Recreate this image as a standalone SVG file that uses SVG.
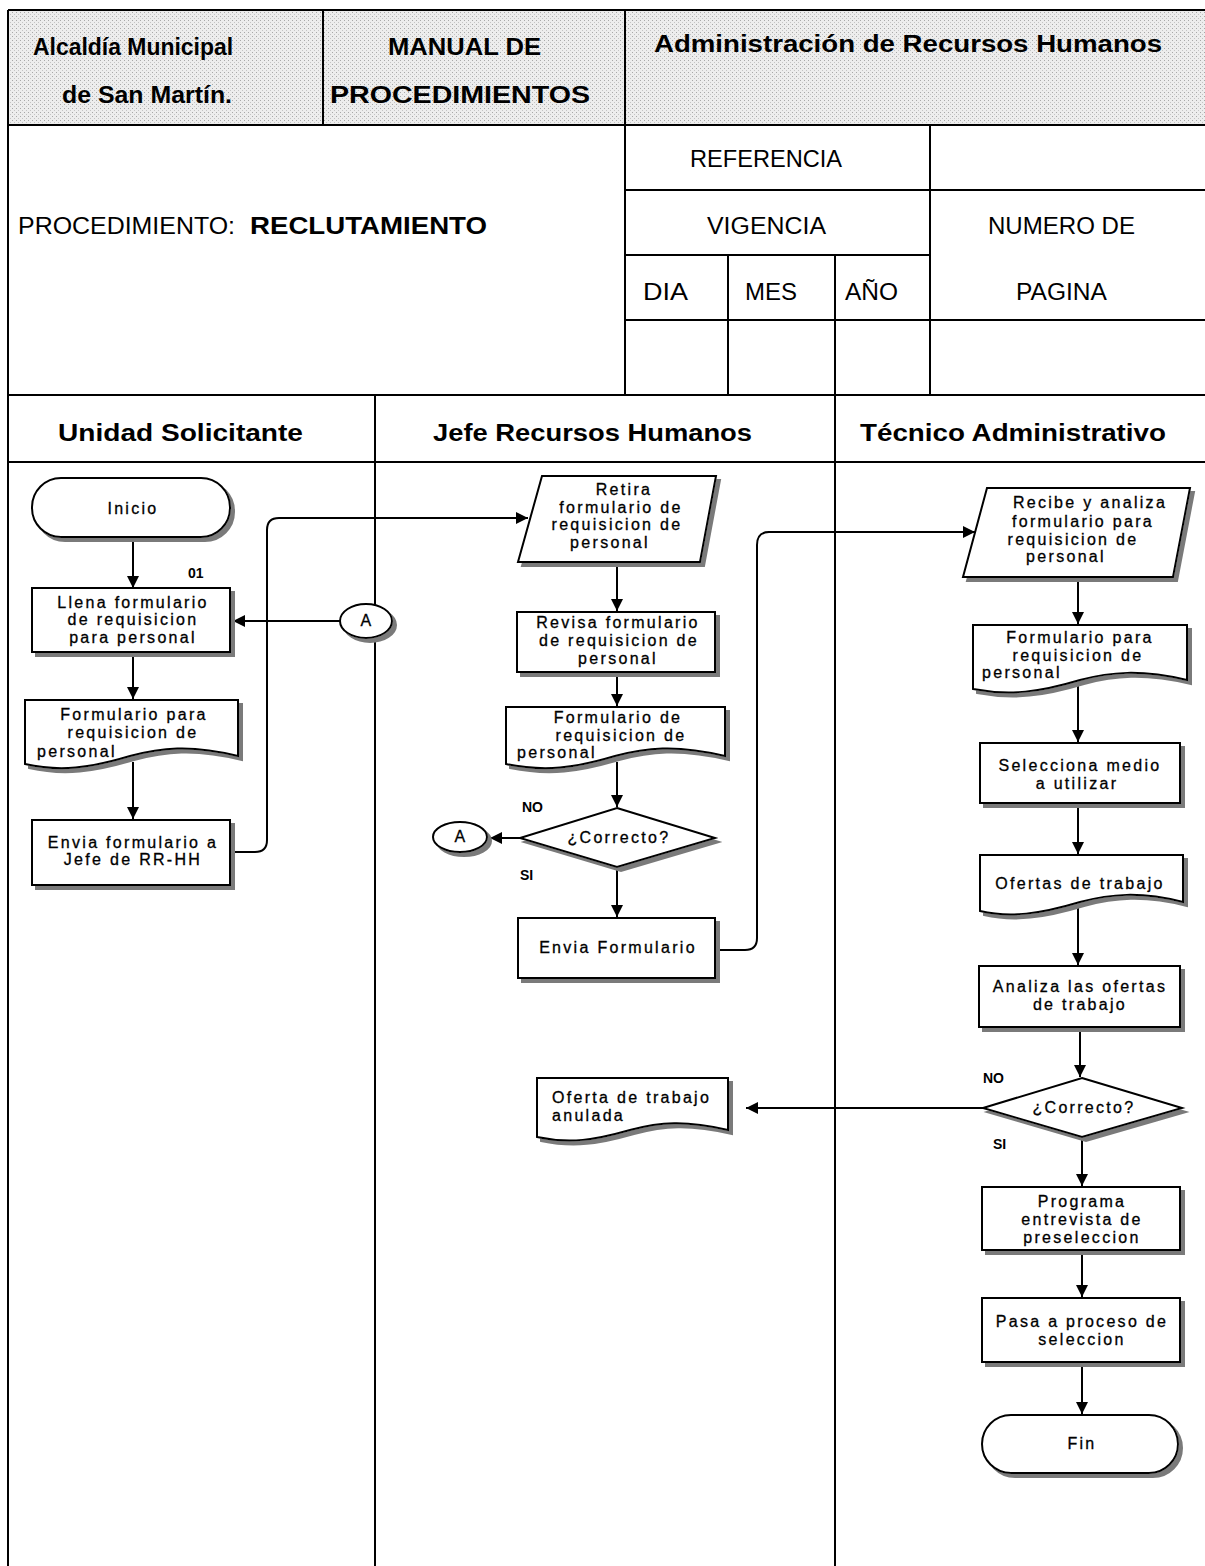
<svg xmlns="http://www.w3.org/2000/svg" width="1205" height="1566" viewBox="0 0 1205 1566">
<defs>
<pattern id="dots" width="4" height="4" patternUnits="userSpaceOnUse"><rect width="4" height="4" fill="#ededed"/><rect width="1" height="1" fill="#a8a8a8"/><rect x="2" y="2" width="1" height="1" fill="#c4c4c4"/></pattern>
<filter id="sh" x="-5%" y="-5%" width="115%" height="130%"><feOffset in="SourceAlpha" dx="4" dy="4" result="o"/><feFlood flood-color="#7a7a7a"/><feComposite in2="o" operator="in" result="s"/><feMerge><feMergeNode in="s"/><feMergeNode in="SourceGraphic"/></feMerge></filter>
<marker id="arr" viewBox="0 0 12 12" refX="12" refY="6" markerWidth="12" markerHeight="12" markerUnits="userSpaceOnUse" orient="auto"><path d="M0,0 L12,6 L0,12 z" fill="#000"/></marker>
<style>
.frame{stroke:#000;stroke-width:2;fill:none}
.hb{font-family:"Liberation Sans",Arial,sans-serif;font-weight:bold;font-size:23px;fill:#000}
.hr{font-family:"Liberation Sans",Arial,sans-serif;font-size:23px;fill:#000}
.shape{fill:#fff;stroke:#000;stroke-width:2;filter:url(#sh)}
.t{font-family:"Liberation Sans",Arial,sans-serif;font-size:16px;letter-spacing:2.3px;fill:#000;stroke:#000;stroke-width:0.3;text-anchor:middle}
.tl{font-family:"Liberation Sans",Arial,sans-serif;font-size:16px;letter-spacing:2.3px;fill:#000;stroke:#000;stroke-width:0.3}
.lbl{font-family:"Liberation Sans",Arial,sans-serif;font-size:14px;font-weight:bold;fill:#000}
.conn{stroke:#000;stroke-width:2;fill:none;marker-end:url(#arr)}
.circ{fill:#fff;stroke:#000;stroke-width:2;filter:url(#sh)}
</style>
</defs>
<rect width="1205" height="1566" fill="#fff"/>

<g id="header">
<rect x="8" y="10" width="1197" height="115" fill="url(#dots)"/>
<path class="frame" d="M8,10 H1205 M8,125 H1205 M8,395 H1205 M8,462 H1205 M8,10 V1566 M323,10 V125 M625,10 V395 M625,190 H1205 M625,255 H930 M625,320 H1205 M930,125 V395 M728,255 V395 M835,255 V1566 M375,395 V1566"/>
<text class="hb" x="33" y="55" textLength="200" lengthAdjust="spacingAndGlyphs">Alcaldía Municipal</text>
<text class="hb" x="62" y="103" textLength="170" lengthAdjust="spacingAndGlyphs">de San Martín.</text>
<text class="hb" x="388" y="55" textLength="153" lengthAdjust="spacingAndGlyphs">MANUAL DE</text>
<text class="hb" x="330" y="103" textLength="260" lengthAdjust="spacingAndGlyphs">PROCEDIMIENTOS</text>
<text class="hb" x="654" y="52" textLength="508" lengthAdjust="spacingAndGlyphs">Administración de Recursos Humanos</text>
<text class="hr" x="18" y="234" textLength="217" lengthAdjust="spacingAndGlyphs">PROCEDIMIENTO:</text>
<text class="hb" x="250" y="234" textLength="237" lengthAdjust="spacingAndGlyphs">RECLUTAMIENTO</text>
<text class="hr" x="690" y="167" textLength="152" lengthAdjust="spacingAndGlyphs">REFERENCIA</text>
<text class="hr" x="707" y="234" textLength="119" lengthAdjust="spacingAndGlyphs">VIGENCIA</text>
<text class="hr" x="988" y="234" textLength="147" lengthAdjust="spacingAndGlyphs">NUMERO DE</text>
<text class="hr" x="643" y="300" textLength="45" lengthAdjust="spacingAndGlyphs">DIA</text>
<text class="hr" x="745" y="300" textLength="52" lengthAdjust="spacingAndGlyphs">MES</text>
<text class="hr" x="845" y="300" textLength="53" lengthAdjust="spacingAndGlyphs">AÑO</text>
<text class="hr" x="1016" y="300" textLength="91" lengthAdjust="spacingAndGlyphs">PAGINA</text>
<text class="hb" x="58" y="441" textLength="245" lengthAdjust="spacingAndGlyphs">Unidad Solicitante</text>
<text class="hb" x="433" y="441" textLength="319" lengthAdjust="spacingAndGlyphs">Jefe Recursos Humanos</text>
<text class="hb" x="860" y="441" textLength="306" lengthAdjust="spacingAndGlyphs">Técnico Administrativo</text>
</g>

<g id="connectors">
<path class="conn" d="M133,538 V588"/>
<path class="conn" d="M133,652 V699"/>
<path class="conn" d="M133,762 V819"/>
<path class="conn" d="M232,852 H255 Q267,852 267,840 V530 Q267,518 279,518 H528"/>
<path class="conn" d="M340,621 H233"/>
<path class="conn" d="M617,562 V611"/>
<path class="conn" d="M617,672 V706"/>
<path class="conn" d="M617,762 V807"/>
<path class="conn" d="M520,838 H490"/>
<path class="conn" d="M617,867 V917"/>
<path class="conn" d="M717,950 H745 Q757,950 757,938 V545 Q757,532 769,532 H975"/>
<path class="conn" d="M1078,577 V624"/>
<path class="conn" d="M1078,685 V742"/>
<path class="conn" d="M1078,803 V854"/>
<path class="conn" d="M1078,908 V965"/>
<path class="conn" d="M1080,1027 V1077"/>
<path class="conn" d="M983,1108 H746"/>
<path class="conn" d="M1082,1137 V1186"/>
<path class="conn" d="M1082,1250 V1297"/>
<path class="conn" d="M1082,1362 V1414"/>
<text class="lbl" x="188" y="578" font-weight="normal">01</text>
<text class="lbl" x="522" y="812">NO</text>
<text class="lbl" x="520" y="880">SI</text>
<text class="lbl" x="983" y="1083">NO</text>
<text class="lbl" x="993" y="1149">SI</text>
</g>

<g id="n-inicio">
<rect class="shape" x="32" y="478" width="198" height="59" rx="29"/>
<text class="t" x="133" y="514">Inicio</text>
</g>
<g id="n-llena">
<rect class="shape" x="32" y="588" width="198" height="64"/>
<text class="t" x="133" y="608">Llena formulario</text>
<text class="t" x="133" y="625">de requisicion</text>
<text class="t" x="133" y="643">para personal</text>
</g>
<g id="n-doc1">
<path class="shape" d="M25,700 H238 V756 C190,744 160,748 130,756 C90,768 60,772 25,764 Z"/>
<text class="t" x="134" y="720">Formulario para</text>
<text class="t" x="133" y="738">requisicion de</text>
<text class="tl" x="37" y="757">personal</text>
</g>
<g id="n-envia1">
<rect class="shape" x="32" y="820" width="198" height="65"/>
<text class="t" x="133" y="848">Envia formulario a</text>
<text class="t" x="133" y="865">Jefe de RR-HH</text>
</g>
<g id="n-a1">
<ellipse class="circ" cx="366" cy="621" rx="26" ry="17"/>
<text class="t" x="367" y="626">A</text>
</g>

<g id="n-retira">
<path class="shape" d="M542,476 H716 L700,562 H518 Z"/>
<text class="t" x="624" y="495">Retira</text>
<text class="t" x="621" y="513">formulario de</text>
<text class="t" x="617" y="530">requisicion de</text>
<text class="t" x="610" y="548">personal</text>
</g>
<g id="n-revisa">
<rect class="shape" x="517" y="612" width="198" height="60"/>
<text class="t" x="618" y="628">Revisa formulario</text>
<text class="t" x="619" y="646">de requisicion de</text>
<text class="t" x="618" y="664">personal</text>
</g>
<g id="n-doc2">
<path class="shape" d="M506,707 H725 V756 C675,744 645,748 615,756 C575,768 545,772 506,764 Z"/>
<text class="t" x="618" y="723">Formulario de</text>
<text class="t" x="621" y="741">requisicion de</text>
<text class="tl" x="517" y="758">personal</text>
</g>
<g id="n-dec1">
<path class="shape" d="M617,808 L715,838 L617,867 L520,838 Z"/>
<text class="t" x="619" y="843">¿Correcto?</text>
</g>
<g id="n-a2">
<ellipse class="circ" cx="460" cy="837" rx="27" ry="15"/>
<text class="t" x="461" y="842">A</text>
</g>
<g id="n-envia2">
<rect class="shape" x="518" y="918" width="197" height="60"/>
<text class="t" x="618" y="953">Envia Formulario</text>
</g>
<g id="n-anulada">
<path class="shape" d="M537,1078 H728 V1130 C685,1120 660,1122 630,1130 C595,1140 570,1144 537,1137 Z"/>
<text class="tl" x="552" y="1103">Oferta de trabajo</text>
<text class="tl" x="552" y="1121">anulada</text>
</g>

<g id="n-recibe">
<path class="shape" d="M987,488 H1190 L1173,577 H963 Z"/>
<text class="t" x="1090" y="508">Recibe y analiza</text>
<text class="t" x="1083" y="527">formulario para</text>
<text class="t" x="1073" y="545">requisicion de</text>
<text class="t" x="1066" y="562">personal</text>
</g>
<g id="n-doc3">
<path class="shape" d="M973,625 H1187 V680 C1140,669 1110,672 1080,680 C1040,692 1010,696 973,689 Z"/>
<text class="t" x="1080" y="643">Formulario para</text>
<text class="t" x="1078" y="661">requisicion de</text>
<text class="tl" x="982" y="678">personal</text>
</g>
<g id="n-selecciona">
<rect class="shape" x="980" y="743" width="200" height="60"/>
<text class="t" x="1080" y="771">Selecciona medio</text>
<text class="t" x="1077" y="789">a utilizar</text>
</g>
<g id="n-ofertas">
<path class="shape" d="M980,855 H1183 V902 C1140,891 1110,894 1080,902 C1040,914 1010,918 980,911 Z"/>
<text class="t" x="1080" y="889">Ofertas de trabajo</text>
</g>
<g id="n-analiza">
<rect class="shape" x="979" y="966" width="201" height="61"/>
<text class="t" x="1080" y="992">Analiza las ofertas</text>
<text class="t" x="1080" y="1010">de trabajo</text>
</g>
<g id="n-dec2">
<path class="shape" d="M1082,1078 L1182,1108 L1082,1137 L983,1108 Z"/>
<text class="t" x="1084" y="1113">¿Correcto?</text>
</g>
<g id="n-programa">
<rect class="shape" x="982" y="1187" width="198" height="63"/>
<text class="t" x="1082" y="1207">Programa</text>
<text class="t" x="1082" y="1225">entrevista de</text>
<text class="t" x="1082" y="1243">preseleccion</text>
</g>
<g id="n-pasa">
<rect class="shape" x="982" y="1298" width="198" height="64"/>
<text class="t" x="1082" y="1327">Pasa a proceso de</text>
<text class="t" x="1082" y="1345">seleccion</text>
</g>
<g id="n-fin">
<rect class="shape" x="982" y="1415" width="196" height="58" rx="29"/>
<text class="t" x="1082" y="1449">Fin</text>
</g>
</svg>
